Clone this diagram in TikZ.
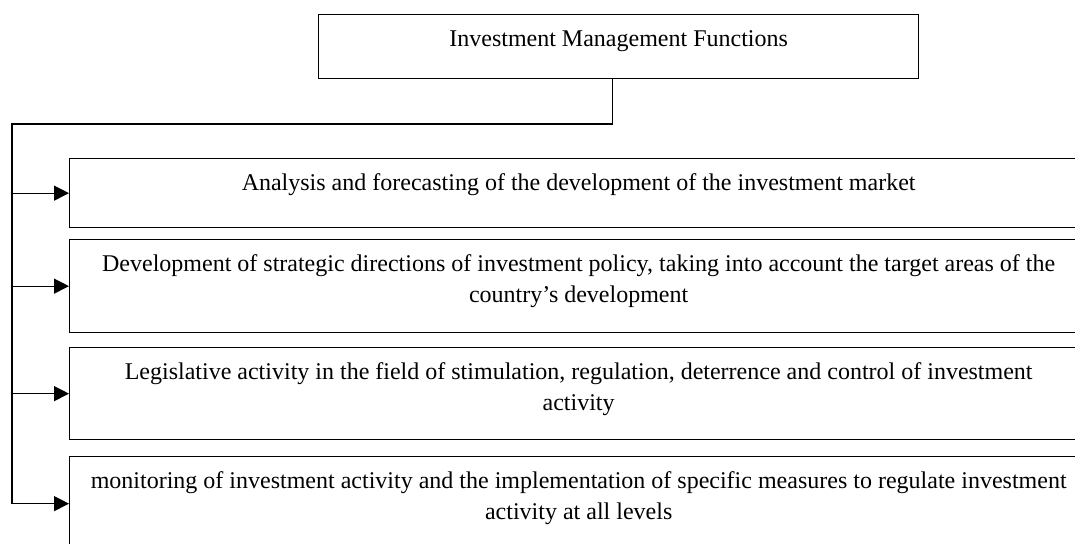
\documentclass[tikz,border=0pt]{standalone}
\usepackage{fontspec}
\setmainfont{Liberation Serif}
\usepackage{tikz}
\usetikzlibrary{arrows.meta}

\tikzset{
    funcbox/.style={draw, line width=1.3pt, anchor=north west, align=flush center, inner xsep=0pt, inner ysep=0pt, text width=1018pt, text height=32pt, font=\fontsize{24}{31}\selectfont},
    feed/.style={-{Triangle[length=15pt,width=15pt]}, line width=1.3pt},
    trunk/.style={line width=1.3pt}
}

\begin{document}
\begin{tikzpicture}[x=1pt, y=-1pt]
    \clip (0,0) rectangle (1075,543);

    % Head Box
    \node[funcbox, text width=600pt, text depth=32pt] (head) at (318,14) {Investment Management Functions};

    % Function Boxes
    \node[funcbox, text depth=37pt] (analysis) at (69,158) {Analysis and forecasting of the development of the investment market};
    \node[funcbox, text depth=61pt] (policy) at (69,239) {Development of strategic directions of investment policy, taking into account the target areas of the\\ country’s development};
    \node[funcbox, text depth=60pt] (legal) at (69,347) {Legislative activity in the field of stimulation, regulation, deterrence and control of investment\\ activity};
    \node[funcbox, text depth=62pt] (monitor) at (69,456) {monitoring of investment activity and the implementation of specific measures to regulate investment\\ activity at all levels};

    % Trunk Line
    \coordinate (corner) at (12,124);
    \draw[trunk] ([xshift=-6pt]head.south) |- (corner) -- (monitor.west -| corner);

    % Branch Arrows
    \foreach \fbox in {analysis, policy, legal, monitor}
        \draw[feed] (\fbox.west -| corner) -- (\fbox.west);
\end{tikzpicture}
\end{document}
